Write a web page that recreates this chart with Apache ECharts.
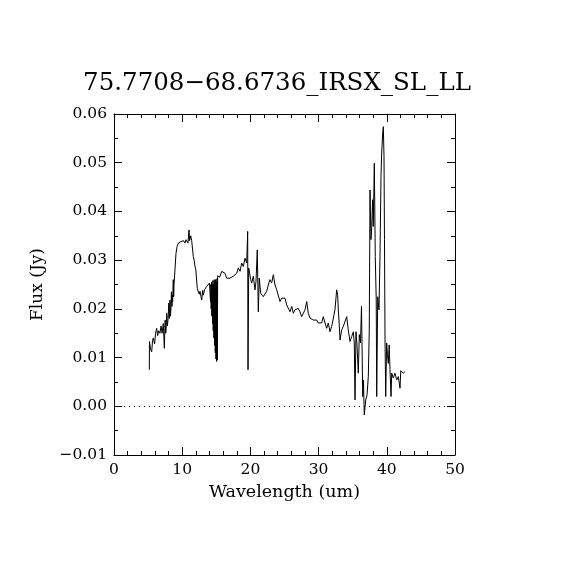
<!DOCTYPE html>
<html>
<head>
<meta charset="utf-8">
<script src="https://cdn.jsdelivr.net/npm/echarts@6/dist/echarts.min.js"></script>
<style>html,body{margin:0;padding:0;background:#fff;}#c{width:570px;height:570px;}</style>
</head>
<body>
<div id="c"></div>
<script>
const titleText = '75.7708\u221268.6736_IRSX_SL_LL';
const xName = 'Wavelength (um)';
const yName = 'Flux (Jy)';
const xTickLabels = ['0', '10', '20', '30', '40', '50'];
const yTickLabels = ['\u22120.01', '0.00', '0.01', '0.02', '0.03', '0.04', '0.05', '0.06'];

const wavelength = [
5.18,5.20,5.35,5.53,5.65,5.76,5.95,6.10,6.26,6.40,6.55,6.74,6.90,7.05,7.23,7.38,7.50,7.58,7.65,7.73,7.82,7.90,
8.05,8.10,8.15,8.21,8.28,8.35,8.42,8.50,8.55,8.60,8.69,8.75,8.80,8.94,9.09,9.25,9.43,9.60,9.80,10.00,10.20,10.41,10.55,10.75,10.85,
11.00,11.08,11.14,11.25,11.39,11.50,11.63,11.75,11.88,12.00,12.21,12.35,12.50,12.61,12.75,12.86,13.00,13.09,13.30,13.59,
13.80,14.00,14.10,14.15,14.20,14.25,14.30,14.35,14.40,14.45,14.50,14.55,14.60,14.65,14.70,14.75,14.80,14.85,14.90,14.95,
15.00,15.05,15.10,15.15,15.20,15.29,15.50,15.79,16.03,16.28,16.52,16.76,17.01,17.25,17.49,17.74,17.99,18.23,18.48,18.72,
18.96,19.21,19.46,19.60,19.65,19.75,19.94,20.05,20.19,20.43,20.67,20.82,21.01,21.16,21.30,21.51,21.89,22.14,22.39,22.62,
22.87,23.12,23.36,23.61,23.86,24.09,24.34,24.59,24.82,25.07,25.32,25.56,25.81,26.06,26.29,26.54,26.79,27.02,27.27,27.52,
27.76,28.01,28.26,28.49,28.74,28.99,29.22,29.47,29.72,29.96,30.21,30.45,30.69,30.94,31.19,31.42,31.67,31.92,32.16,32.40,
32.65,32.80,32.89,32.99,33.14,33.39,33.62,33.87,34.12,34.35,34.60,34.85,35.09,35.23,35.34,35.48,35.63,35.82,35.97,36.14,
36.29,36.47,36.58,36.70,36.91,37.10,37.29,37.43,37.54,37.68,37.79,37.93,38.02,38.17,38.31,38.45,38.52,38.67,38.86,39.00,
39.15,39.25,39.40,39.49,39.59,39.66,39.74,39.84,39.98,40.10,40.22,40.35,40.47,40.62,40.72,40.95,41.20,41.45,41.69,41.94,
42.05,42.18,42.42,42.67
];
const flux = [
0.0075,0.0133,0.0118,0.0112,0.0135,0.0140,0.0128,0.0150,0.0160,0.0145,0.0155,0.0150,0.0165,0.0150,0.0170,0.0119,0.0177,0.0150,0.0160,0.0191,0.0165,0.0175,
0.0212,0.0180,0.0190,0.0218,0.0185,0.0200,0.0235,0.0205,0.0228,0.0215,0.0260,0.0225,0.0250,0.0280,0.0314,0.0328,0.0335,0.0333,0.0338,0.0336,0.0340,0.0335,0.0342,0.0345,0.0335,
0.0362,0.0340,0.0338,0.0350,0.0340,0.0325,0.0307,0.0300,0.0287,0.0280,0.0242,0.0238,0.0230,0.0236,0.0225,0.0218,0.0238,0.0228,0.0240,0.0246,
0.0248,0.0253,0.0253,0.0215,0.0250,0.0200,0.0255,0.0185,0.0250,0.0170,0.0258,0.0155,0.0250,0.0140,0.0260,0.0125,0.0250,0.0110,0.0260,0.0097,
0.0255,0.0092,0.0262,0.0095,0.0268,0.0270,0.0265,0.0277,0.0280,0.0273,0.0263,0.0267,0.0263,0.0267,0.0267,0.0270,0.0273,0.0284,0.0277,0.0294,
0.0287,0.0304,0.0294,0.0359,0.0075,0.0284,0.0284,0.0260,0.0253,0.0267,0.0239,0.0256,0.0321,0.0194,0.0263,0.0232,0.0225,0.0222,0.0236,0.0249,
0.0260,0.0253,0.0270,0.0249,0.0239,0.0236,0.0215,0.0222,0.0218,0.0222,0.0208,0.0205,0.0194,0.0205,0.0191,0.0198,0.0194,0.0201,0.0194,0.0184,
0.0191,0.0198,0.0215,0.0191,0.0181,0.0184,0.0177,0.0174,0.0177,0.0171,0.0174,0.0171,0.0184,0.0171,0.0160,0.0171,0.0153,0.0164,0.0167,0.0198,
0.0239,0.0227,0.0198,0.0177,0.0136,0.0157,0.0164,0.0164,0.0184,0.0157,0.0133,0.0143,0.0153,0.0130,0.0013,0.0153,0.0126,0.0068,0.0147,0.0130,
0.0205,0.0020,0.0054,-0.0018,0.0013,0.0023,0.0061,0.0157,0.0444,0.0342,0.0369,0.0424,0.0369,0.0499,0.0307,0.0218,0.0020,0.0225,0.0198,0.0307,
0.0472,0.0520,0.0561,0.0574,0.0513,0.0342,0.0136,0.0020,0.0130,0.0106,0.0088,0.0126,0.0075,0.0020,0.0068,0.0058,0.0068,0.0054,0.0061,0.0037,
0.0073,0.0071,0.0068,0.0071
];

const FONT = 'DejaVu Serif';
const chart = echarts.init(document.getElementById('c'), null, {renderer: 'canvas'});

const baseX = {
  type: 'value', min: 0, max: 50, interval: 10,
  axisLine: {show: true, onZero: false, lineStyle: {color: '#000', width: 1}},
  axisTick: {show: true, inside: true, length: 8, lineStyle: {color: '#000'}},
  minorTick: {show: true, splitNumber: 5, length: 4, lineStyle: {color: '#000'}},
  splitLine: {show: false}, minorSplitLine: {show: false}
};
const baseY = {
  type: 'value', min: -0.01, max: 0.06, interval: 0.01,
  axisLine: {show: true, onZero: false, lineStyle: {color: '#000', width: 1}},
  axisTick: {show: true, inside: true, length: 8, lineStyle: {color: '#000'}},
  minorTick: {show: true, splitNumber: 2, length: 4, lineStyle: {color: '#000'}},
  splitLine: {show: false}, minorSplitLine: {show: false}
};

chart.setOption({
  animation: false,
  backgroundColor: '#fff',
  title: {
    text: titleText, left: 272, top: 66, textAlign: 'center',
    textStyle: {fontFamily: FONT, fontSize: 24.5, fontWeight: 'normal', color: '#000'}
  },
  grid: {left: 114, right: 115, top: 114, bottom: 115, containLabel: false},
  xAxis: [
    Object.assign({}, baseX, {
      position: 'bottom',
      name: xName, nameLocation: 'middle', nameGap: 28,
      nameTextStyle: {fontFamily: FONT, fontSize: 17.5, color: '#000'},
      axisLabel: {show: true, margin: 7, fontFamily: FONT, fontSize: 15.5, color: '#000',
        formatter: v => xTickLabels[Math.round(v / 10)]}
    }),
    Object.assign({}, baseX, {position: 'top', axisLabel: {show: false}})
  ],
  yAxis: [
    Object.assign({}, baseY, {
      position: 'left',
      name: yName, nameLocation: 'middle', nameGap: 68, nameRotate: 90,
      nameTextStyle: {fontFamily: FONT, fontSize: 17, color: '#000'},
      axisLabel: {show: true, margin: 7, fontFamily: FONT, fontSize: 15.5, color: '#000',
        formatter: v => yTickLabels[Math.round((v + 0.01) / 0.01)]}
    }),
    Object.assign({}, baseY, {position: 'right', axisLabel: {show: false}})
  ],
  series: [{
    type: 'line',
    xAxisIndex: 0, yAxisIndex: 0,
    data: wavelength.map((w, i) => [w, flux[i]]),
    showSymbol: false, symbol: 'none',
    lineStyle: {color: '#000', width: 1},
    markLine: {
      silent: true, symbol: 'none', animation: false,
      label: {show: false},
      lineStyle: {color: '#000', width: 1, type: [1, 4]},
      data: [{yAxis: 0}]
    }
  }]
});
</script>
</body>
</html>
